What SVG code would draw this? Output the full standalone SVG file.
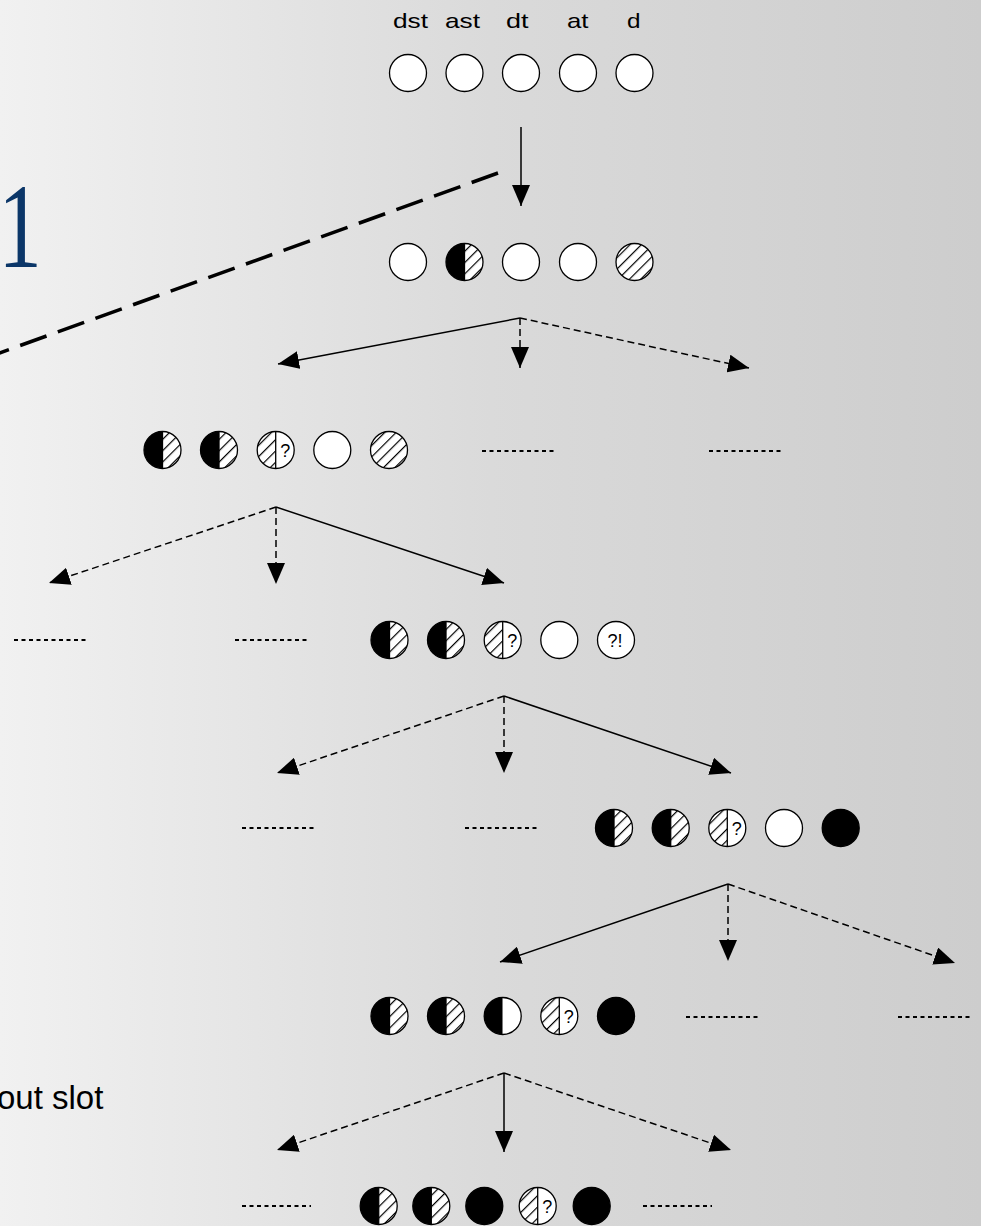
<svg xmlns="http://www.w3.org/2000/svg" xmlns:xlink="http://www.w3.org/1999/xlink" width="981" height="1226" viewBox="0 0 981 1226">
<style>
.lbl{font-family:"Liberation Sans",Arial,sans-serif;font-size:21px;fill:#000}
.q{font-family:"Liberation Sans",Arial,sans-serif;font-size:18px;fill:#000;text-anchor:middle}
.ol{stroke:#000;stroke-width:1.3}
.conn{fill:none;stroke:#000;stroke-width:1.5}
.dash{stroke-dasharray:7 4}
.dots{fill:none;stroke:#000;stroke-width:2;stroke-dasharray:4 3.5}
</style>
<defs>
<linearGradient id="bg" x1="0" y1="0" x2="1" y2="0">
<stop offset="0" stop-color="#f1f1f1"/>
<stop offset="0.5" stop-color="#dadada"/>
<stop offset="1" stop-color="#cdcdcd"/>
</linearGradient>
<pattern id="hatch" width="8" height="8" patternUnits="userSpaceOnUse" patternTransform="rotate(45)">
<rect x="0" y="0" width="8" height="8" fill="#fff"/>
<line x1="0" y1="0" x2="0" y2="8" stroke="#000" stroke-width="2.4"/>
</pattern>
<marker id="ah" markerUnits="userSpaceOnUse" markerWidth="21" markerHeight="18" refX="21" refY="9" orient="auto">
<path d="M0,0 L21,9 L0,18 Z" fill="#000"/>
</marker>
<g id="W"><circle r="18.5" fill="#fff" class="ol"/></g>
<g id="K"><circle r="18.5" fill="#000" class="ol"/></g>
<g id="H"><circle r="18.5" fill="url(#hatch)" class="ol"/></g>
<g id="BH"><path d="M0,-18.5 A18.5,18.5 0 0 0 0,18.5 Z" fill="#000"/><path d="M0,-18.5 A18.5,18.5 0 0 1 0,18.5 Z" fill="url(#hatch)"/><circle r="18.5" fill="none" class="ol"/><line x1="0" y1="-18.5" x2="0" y2="18.5" class="ol"/></g>
<g id="BW"><path d="M0,-18.5 A18.5,18.5 0 0 0 0,18.5 Z" fill="#000"/><path d="M0,-18.5 A18.5,18.5 0 0 1 0,18.5 Z" fill="#fff"/><circle r="18.5" fill="none" class="ol"/></g>
<g id="HQ"><path d="M0,-18.5 A18.5,18.5 0 0 0 0,18.5 Z" fill="url(#hatch)"/><path d="M0,-18.5 A18.5,18.5 0 0 1 0,18.5 Z" fill="#fff"/><circle r="18.5" fill="none" class="ol"/><line x1="0" y1="-18.5" x2="0" y2="18.5" class="ol"/><text class="q" x="9.5" y="6.5">?</text></g>
<g id="QX"><circle r="18.5" fill="#fff" class="ol"/><text class="q" x="-1" y="6.5">?!</text></g>
</defs>
<rect x="0" y="0" width="981" height="1226" fill="url(#bg)"/>

<text transform="translate(20,267) scale(0.72,1)" x="0" y="0" font-family="'Liberation Serif','Times New Roman',serif" font-size="121" fill="#0b3668" text-anchor="middle">1</text>
<line x1="498" y1="173" x2="-20" y2="360" stroke="#000" stroke-width="3.5" stroke-dasharray="28 12"/>
<text x="-3" y="1109" font-family="'Liberation Sans',Arial,sans-serif" font-size="33" fill="#000">out slot</text>

<g id="labels">
<text class="lbl" x="393" y="28" textLength="35" lengthAdjust="spacingAndGlyphs">dst</text>
<text class="lbl" x="445" y="28" textLength="35" lengthAdjust="spacingAndGlyphs">ast</text>
<text class="lbl" x="506" y="28" textLength="22.5" lengthAdjust="spacingAndGlyphs">dt</text>
<text class="lbl" x="567" y="28" textLength="21.5" lengthAdjust="spacingAndGlyphs">at</text>
<text class="lbl" x="627" y="28" textLength="13.5" lengthAdjust="spacingAndGlyphs">d</text>
</g>

<g id="row1">
<use xlink:href="#W" x="408" y="73"/>
<use xlink:href="#W" x="464.5" y="73"/>
<use xlink:href="#W" x="521" y="73"/>
<use xlink:href="#W" x="578" y="73"/>
<use xlink:href="#W" x="634.5" y="73"/>
</g>
<g id="row2">
<use xlink:href="#W" x="408" y="262"/>
<use xlink:href="#BH" x="464.5" y="262"/>
<use xlink:href="#W" x="521" y="262"/>
<use xlink:href="#W" x="578" y="262"/>
<use xlink:href="#H" x="634.5" y="262"/>
</g>
<g id="row3">
<use xlink:href="#BH" x="162.5" y="450"/>
<use xlink:href="#BH" x="219" y="450"/>
<use xlink:href="#HQ" x="275.7" y="450"/>
<use xlink:href="#W" x="332.3" y="450"/>
<use xlink:href="#H" x="389" y="450"/>
</g>
<g id="row3-other1"><line class="dots" x1="482" y1="451" x2="557" y2="451"/></g>
<g id="row3-other2"><line class="dots" x1="709" y1="451" x2="784" y2="451"/></g>
<g id="row4">
<use xlink:href="#BH" x="389.5" y="640"/>
<use xlink:href="#BH" x="446" y="640"/>
<use xlink:href="#HQ" x="502.7" y="640"/>
<use xlink:href="#W" x="559.3" y="640"/>
<use xlink:href="#QX" x="616" y="640"/>
</g>
<g id="row4-other1"><line class="dots" x1="14" y1="640" x2="88" y2="640"/></g>
<g id="row4-other2"><line class="dots" x1="235" y1="640" x2="309" y2="640"/></g>
<g id="row5">
<use xlink:href="#BH" x="614" y="828"/>
<use xlink:href="#BH" x="670.7" y="828"/>
<use xlink:href="#HQ" x="727.3" y="828"/>
<use xlink:href="#W" x="784" y="828"/>
<use xlink:href="#K" x="840.7" y="828"/>
</g>
<g id="row5-other1"><line class="dots" x1="242" y1="828" x2="317" y2="828"/></g>
<g id="row5-other2"><line class="dots" x1="465" y1="828" x2="540" y2="828"/></g>
<g id="row6">
<use xlink:href="#BH" x="389.5" y="1016"/>
<use xlink:href="#BH" x="446" y="1016"/>
<use xlink:href="#BW" x="502.7" y="1016"/>
<use xlink:href="#HQ" x="559.3" y="1016"/>
<use xlink:href="#K" x="616" y="1016"/>
</g>
<g id="row6-other1"><line class="dots" x1="686" y1="1017" x2="761" y2="1017"/></g>
<g id="row6-other2"><line class="dots" x1="898" y1="1017" x2="973" y2="1017"/></g>
<g id="row7">
<use xlink:href="#BH" x="378.7" y="1206"/>
<use xlink:href="#BH" x="431.3" y="1206"/>
<use xlink:href="#K" x="484.3" y="1206"/>
<use xlink:href="#HQ" x="537.7" y="1206"/>
<use xlink:href="#K" x="591.7" y="1206"/>
</g>
<g id="row7-other1"><line class="dots" x1="242" y1="1206" x2="311" y2="1206"/></g>
<g id="row7-other2"><line class="dots" x1="643" y1="1206" x2="712" y2="1206"/></g>

<g id="connectors">
<line class="conn" x1="521" y1="127" x2="521" y2="206" marker-end="url(#ah)"/>
<line class="conn" x1="520" y1="318" x2="278" y2="364" marker-end="url(#ah)"/>
<line class="conn dash" x1="520" y1="318" x2="520" y2="368" marker-end="url(#ah)"/>
<line class="conn dash" x1="520" y1="318" x2="749" y2="368" marker-end="url(#ah)"/>
<line class="conn dash" x1="276" y1="507" x2="49" y2="583" marker-end="url(#ah)"/>
<line class="conn dash" x1="276" y1="507" x2="276" y2="584" marker-end="url(#ah)"/>
<line class="conn" x1="276" y1="507" x2="504" y2="583" marker-end="url(#ah)"/>
<line class="conn dash" x1="504" y1="696" x2="277" y2="773" marker-end="url(#ah)"/>
<line class="conn dash" x1="504" y1="696" x2="504" y2="773" marker-end="url(#ah)"/>
<line class="conn" x1="504" y1="696" x2="731" y2="773" marker-end="url(#ah)"/>
<line class="conn" x1="728" y1="884" x2="500" y2="962" marker-end="url(#ah)"/>
<line class="conn dash" x1="728" y1="884" x2="728" y2="961" marker-end="url(#ah)"/>
<line class="conn dash" x1="728" y1="884" x2="955" y2="963" marker-end="url(#ah)"/>
<line class="conn dash" x1="504" y1="1073" x2="277" y2="1150" marker-end="url(#ah)"/>
<line class="conn" x1="504" y1="1073" x2="504" y2="1152" marker-end="url(#ah)"/>
<line class="conn dash" x1="504" y1="1073" x2="731" y2="1150" marker-end="url(#ah)"/>
</g>
</svg>
